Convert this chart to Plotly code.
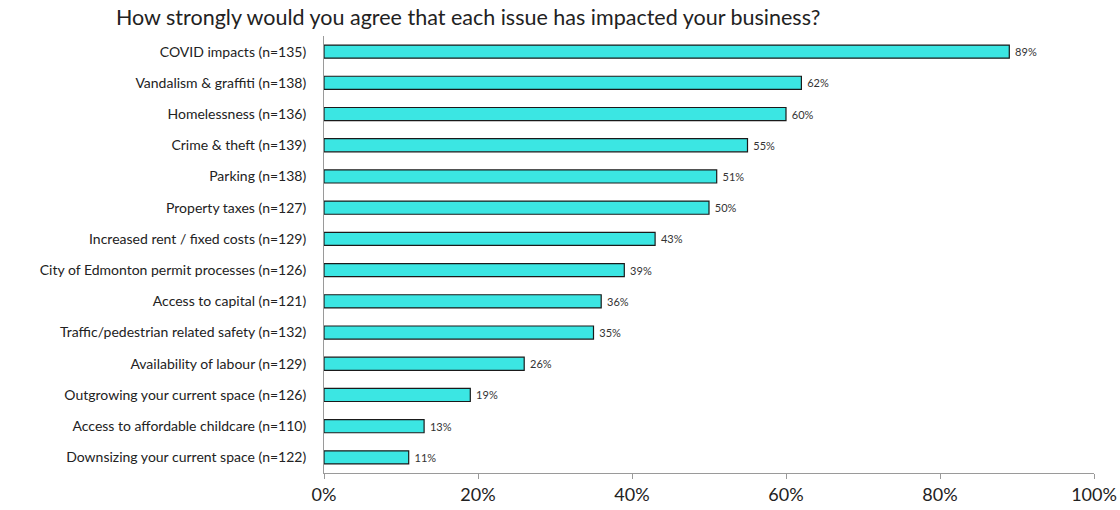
import plotly.graph_objects as go

categories = [
    "COVID impacts (n=135)",
    "Vandalism & graffiti (n=138)",
    "Homelessness (n=136)",
    "Crime & theft (n=139)",
    "Parking (n=138)",
    "Property taxes (n=127)",
    "Increased rent / fixed costs (n=129)",
    "City of Edmonton permit processes (n=126)",
    "Access to capital (n=121)",
    "Traffic/pedestrian related safety (n=132)",
    "Availability of labour (n=129)",
    "Outgrowing your current space (n=126)",
    "Access to affordable childcare (n=110)",
    "Downsizing your current space (n=122)",
]
values = [89, 62, 60, 55, 51, 50, 43, 39, 36, 35, 26, 19, 13, 11]
tick_vals = [0, 20, 40, 60, 80, 100]
tick_text = ["0%", "20%", "40%", "60%", "80%", "100%"]

FONT = "Lato, 'Open Sans', sans-serif"

fig = go.Figure(
    go.Bar(
        y=categories,
        x=values,
        orientation="h",
        marker=dict(color="#3BE6E3", line=dict(color="#1a1a1a", width=1.2)),
        text=[f" {v}%" for v in values],
        textposition="outside",
        textfont=dict(size=11, color="#333333", family=FONT),
        cliponaxis=False,
        hoverinfo="skip",
    )
)

fig.update_layout(
    width=1120,
    height=510,
    margin=dict(l=324, r=26, t=36, b=37),
    paper_bgcolor="white",
    plot_bgcolor="white",
    bargap=0.58,
    showlegend=False,
    font=dict(family=FONT, color="#222222"),
    title=dict(
        text="How strongly would you agree that each issue has impacted your business?",
        x=116 / 1120,
        xanchor="left",
        y=1 - 17 / 510,
        yanchor="middle",
        font=dict(size=21.5, color="#222222", family=FONT),
    ),
)

fig.update_xaxes(
    range=[0, 100],
    tickvals=tick_vals,
    ticktext=tick_text,
    showgrid=False,
    zeroline=False,
    showline=True,
    linecolor="#9a9a9a",
    linewidth=1,
    ticks="outside",
    ticklen=5,
    tickcolor="#9a9a9a",
    tickfont=dict(size=18, color="#222222", family=FONT),
    automargin=False,
    fixedrange=True,
)

fig.update_yaxes(
    categoryorder="array",
    categoryarray=categories[::-1],
    showgrid=False,
    showline=True,
    linecolor="#9a9a9a",
    linewidth=1,
    ticks="",
    ticklabelstandoff=14,
    tickfont=dict(size=14, color="#222222", family=FONT),
    automargin=False,
    fixedrange=True,
)

fig.write_html("out.html")
